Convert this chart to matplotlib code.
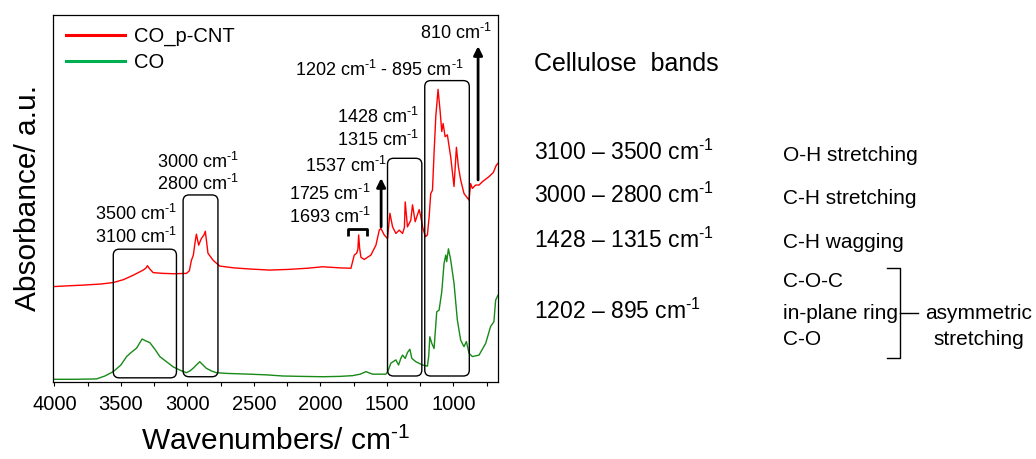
import matplotlib
matplotlib.use('Agg')
import matplotlib.pyplot as plt
from matplotlib.patches import FancyBboxPatch
from matplotlib.lines import Line2D
from matplotlib.transforms import IdentityTransform

plt.rcParams['font.family'] = ['Liberation Sans', 'DejaVu Sans']
plt.rcParams['mathtext.fontset'] = 'custom'
plt.rcParams['mathtext.rm'] = 'Liberation Sans'
plt.rcParams['mathtext.it'] = 'Liberation Sans:italic'
plt.rcParams['mathtext.bf'] = 'Liberation Sans:bold'

# ---------------- data ----------------
wn_co_pcnt = [4005, 3900, 3782, 3650, 3557, 3480, 3407, 3332, 3310, 3300, 3285, 3257, 3182, 3100,
              3007, 2985, 2970, 2955, 2940, 2932, 2915, 2895, 2875, 2865, 2855, 2845, 2807, 2757,
              2650, 2532, 2382, 2232, 2100, 1982, 1850, 1770, 1745, 1727, 1718, 1712, 1705, 1695,
              1670, 1620, 1582, 1557, 1545, 1520, 1495, 1477, 1457, 1432, 1407, 1382, 1368, 1362,
              1345, 1320, 1307, 1287, 1257, 1245, 1230, 1210, 1195, 1182, 1170, 1157, 1145, 1132,
              1115, 1100, 1087, 1077, 1062, 1045, 1020, 995, 977, 962, 945, 920, 882, 870, 857,
              832, 807, 782, 732, 700, 677, 665]
abs_co_pcnt = [25.9, 26.1, 26.3, 26.6, 27.0, 27.8, 29.0, 30.4, 31.0, 31.6, 30.8, 29.7, 29.5, 29.4,
               29.5, 30.2, 33.0, 34.5, 38.5, 40.2, 37.2, 39.0, 40.0, 41.0, 38.0, 35.0, 33.1, 31.5,
               31.0, 30.7, 30.4, 30.6, 30.9, 31.3, 31.0, 30.9, 34.5, 35.0, 36.0, 40.0, 36.5, 33.9,
               33.3, 34.5, 37.2, 41.3, 41.8, 40.0, 39.0, 45.9, 42.2, 40.4, 41.3, 40.4, 42.0, 49.0,
               42.2, 44.0, 48.2, 43.6, 46.9, 45.0, 42.0, 39.5, 40.0, 45.0, 51.3, 52.2, 62.3, 72.3,
               79.7, 74.0, 68.2, 70.4, 66.8, 67.3, 61.3, 53.2, 63.9, 58.6, 55.0, 51.3, 49.5, 54.0, 52.7,
               53.6, 53.6, 54.5, 55.9, 57.0, 59.0, 59.5]

wn_co = [4005, 3850, 3683, 3620, 3557, 3500, 3457, 3420, 3382, 3340, 3320, 3282, 3240, 3207, 3150,
         3107, 3050, 3007, 2980, 2957, 2930, 2907, 2885, 2857, 2820, 2782, 2700, 2532, 2400, 2282,
         2150, 1982, 1850, 1757, 1700, 1657, 1630, 1607, 1557, 1507, 1490, 1470, 1432, 1412, 1395,
         1382, 1362, 1345, 1327, 1312, 1282, 1232, 1195, 1185, 1177, 1162, 1145, 1125, 1107, 1087,
         1070, 1057, 1050, 1037, 1020, 995, 970, 945, 920, 902, 882, 857, 807, 757, 720, 695, 682, 665]
abs_co = [0.6, 0.6, 0.7, 1.5, 2.7, 4.5, 6.8, 8.0, 9.1, 11.6, 11.2, 10.6, 8.6, 6.8, 5.2,
          4.0, 3.0, 2.4, 2.9, 3.6, 4.6, 5.4, 4.6, 3.6, 2.9, 2.4, 2.2, 2.0, 1.8, 1.5,
          1.4, 1.3, 1.4, 1.6, 2.0, 2.7, 2.3, 2.0, 2.0, 2.0, 3.0, 5.0, 5.9, 4.5, 6.3,
          7.2, 6.3, 7.9, 8.8, 6.3, 5.4, 4.5, 4.2, 7.0, 12.2, 10.4, 9.0, 19.0, 19.5, 24.5,
          32.2, 34.5, 32.7, 36.2, 33.2, 26.8, 16.8, 11.3, 9.5, 10.9, 7.7, 6.8, 7.2, 10.4, 15.0, 16.3, 22.2, 23.5]

series_labels = ['CO_p-CNT', 'CO']
major_ticks = [4000, 3500, 3000, 2500, 2000, 1500, 1000]
minor_ticks = [3750, 3250, 2750, 2250, 1750, 1250, 750]

# ---------------- figure ----------------
W, H = 1036, 459
fig = plt.figure(figsize=(W / 100, H / 100), dpi=100)
ax = fig.add_axes([53.3 / W, 1 - 381.5 / H, 445 / W, 366.5 / H])

RED = '#FF0000'
GREEN = '#178A17'
ax.plot(wn_co_pcnt, abs_co_pcnt, color=RED, lw=1.0)
ax.plot(wn_co, abs_co, color=GREEN, lw=1.0)
ax.set_xlim(4008, 662)
ax.set_ylim(0, 100)
ax.set_xticks(major_ticks)
ax.set_xticks(minor_ticks, minor=True)
ax.set_yticks([])
ax.tick_params(axis='x', which='both', direction='out', length=3, width=0.8, labelsize=14.5, pad=7)
for s in ax.spines.values():
    s.set_linewidth(0.9)

handles = [Line2D([], [], color=RED, lw=2.2), Line2D([], [], color='#00B050', lw=2.2)]
ax.legend(handles, series_labels, loc='upper left', bbox_to_anchor=(0.029, 0.968), frameon=False,
          fontsize=14.5, handlelength=2.93, handletextpad=0.45, labelspacing=0.36,
          borderpad=0, borderaxespad=0)


def fx(px):
    return px / W


def fy(py):
    return 1 - py / H


SUP = r'cm$^{\text{-1}}$'

# axis labels
fig.text(fx(275.8), fy(450), 'Wavenumbers/ ' + SUP, fontsize=21.5, ha='center', va='baseline')
fig.text(fx(28.4), fy(198), 'Absorbance/ a.u.', fontsize=21.5, rotation=90, ha='center', va='center')

# band boxes (wavenumber ranges, absorbance ranges)
fig.canvas.draw()
box_defs = [(3557, 3082, 1.0, 36.1), (3032, 2770, 1.3, 50.9), (1495, 1237, 1.5, 60.9), (1215, 880, 1.5, 82.1)]
for w1, w2, v1, v2 in box_defs:
    (xa, ya) = ax.transData.transform((w1, v1))
    (xb, yb) = ax.transData.transform((w2, v2))
    x0, x1 = min(xa, xb), max(xa, xb)
    y0, y1 = min(ya, yb), max(ya, yb)
    p = FancyBboxPatch((x0, y0), x1 - x0, y1 - y0, boxstyle='round,pad=0,rounding_size=6',
                       fill=False, edgecolor='black', lw=1.0, transform=IdentityTransform())
    fig.add_artist(p)

# bracket for 1725/1693
ax.plot([1791, 1791, 1651, 1651], [39.7, 41.6, 41.6, 39.7], color='black', lw=2.0, solid_capstyle='butt')

# arrows
arrow_kw = dict(arrowstyle='-|>', lw=2.0, color='black', mutation_scale=13, shrinkA=0, shrinkB=0)
ax.annotate('', xy=(1543, 55.5), xytext=(1543, 42.2), arrowprops=arrow_kw)
ax.annotate('', xy=(814, 91.5), xytext=(814, 55.0), arrowprops=arrow_kw)

# annotation labels (pixel positions: left, baseline)
ann = [
    ('3500 ' + SUP, 95, 220), ('3100 ' + SUP, 95, 243.3),
    ('3000 ' + SUP, 156.7, 168.3), ('2800 ' + SUP, 156.7, 190),
    ('1725 ' + SUP, 289.3, 200), ('1693 ' + SUP, 289.3, 223.3),
    ('1537 ' + SUP, 305, 171.7),
    ('1428 ' + SUP, 337.3, 123.3), ('1315 ' + SUP, 337.3, 145.7),
    ('1202 ' + SUP + ' - 895 ' + SUP, 295, 76),
]
for t, px, py in ann:
    fig.text(fx(px), fy(py), t, fontsize=13, ha='left', va='baseline')
fig.text(fx(491.7), fy(39.3), '810 ' + SUP, fontsize=13, ha='right', va='baseline')

# right-hand table
fig.text(fx(534), fy(71), 'Cellulose  bands', fontsize=18, ha='left', va='baseline')
ranges = [('3100 – 3500 ' + SUP, 160), ('3000 – 2800 ' + SUP, 203.3),
          ('1428 – 1315 ' + SUP, 247.7), ('1202 – 895 ' + SUP, 319.3)]
for t, py in ranges:
    fig.text(fx(534), fy(py), t, fontsize=16.5, ha='left', va='baseline')
descs = [('O-H stretching', 161), ('C-H stretching', 204), ('C-H wagging', 247.7),
         ('C-O-C', 287.3), ('in-plane ring', 319.3), ('C-O', 345)]
for t, py in descs:
    fig.text(fx(783.3), fy(py), t, fontsize=15, ha='left', va='baseline')
fig.text(fx(979), fy(319.3), 'asymmetric', fontsize=15, ha='center', va='baseline')
fig.text(fx(979), fy(345), 'stretching', fontsize=15, ha='center', va='baseline')

# bracket on right
bx = [fx(887.3), fx(900), fx(900), fx(887.3)]
by = [fy(267.7), fy(267.7), fy(358.3), fy(358.3)]
fig.add_artist(Line2D(bx, by, color='black', lw=1.0, transform=fig.transFigure))
fig.add_artist(Line2D([fx(900), fx(918.3)], [fy(312.7), fy(312.7)], color='black', lw=1.0,
                      transform=fig.transFigure))

fig.savefig('out.png', dpi=100)
